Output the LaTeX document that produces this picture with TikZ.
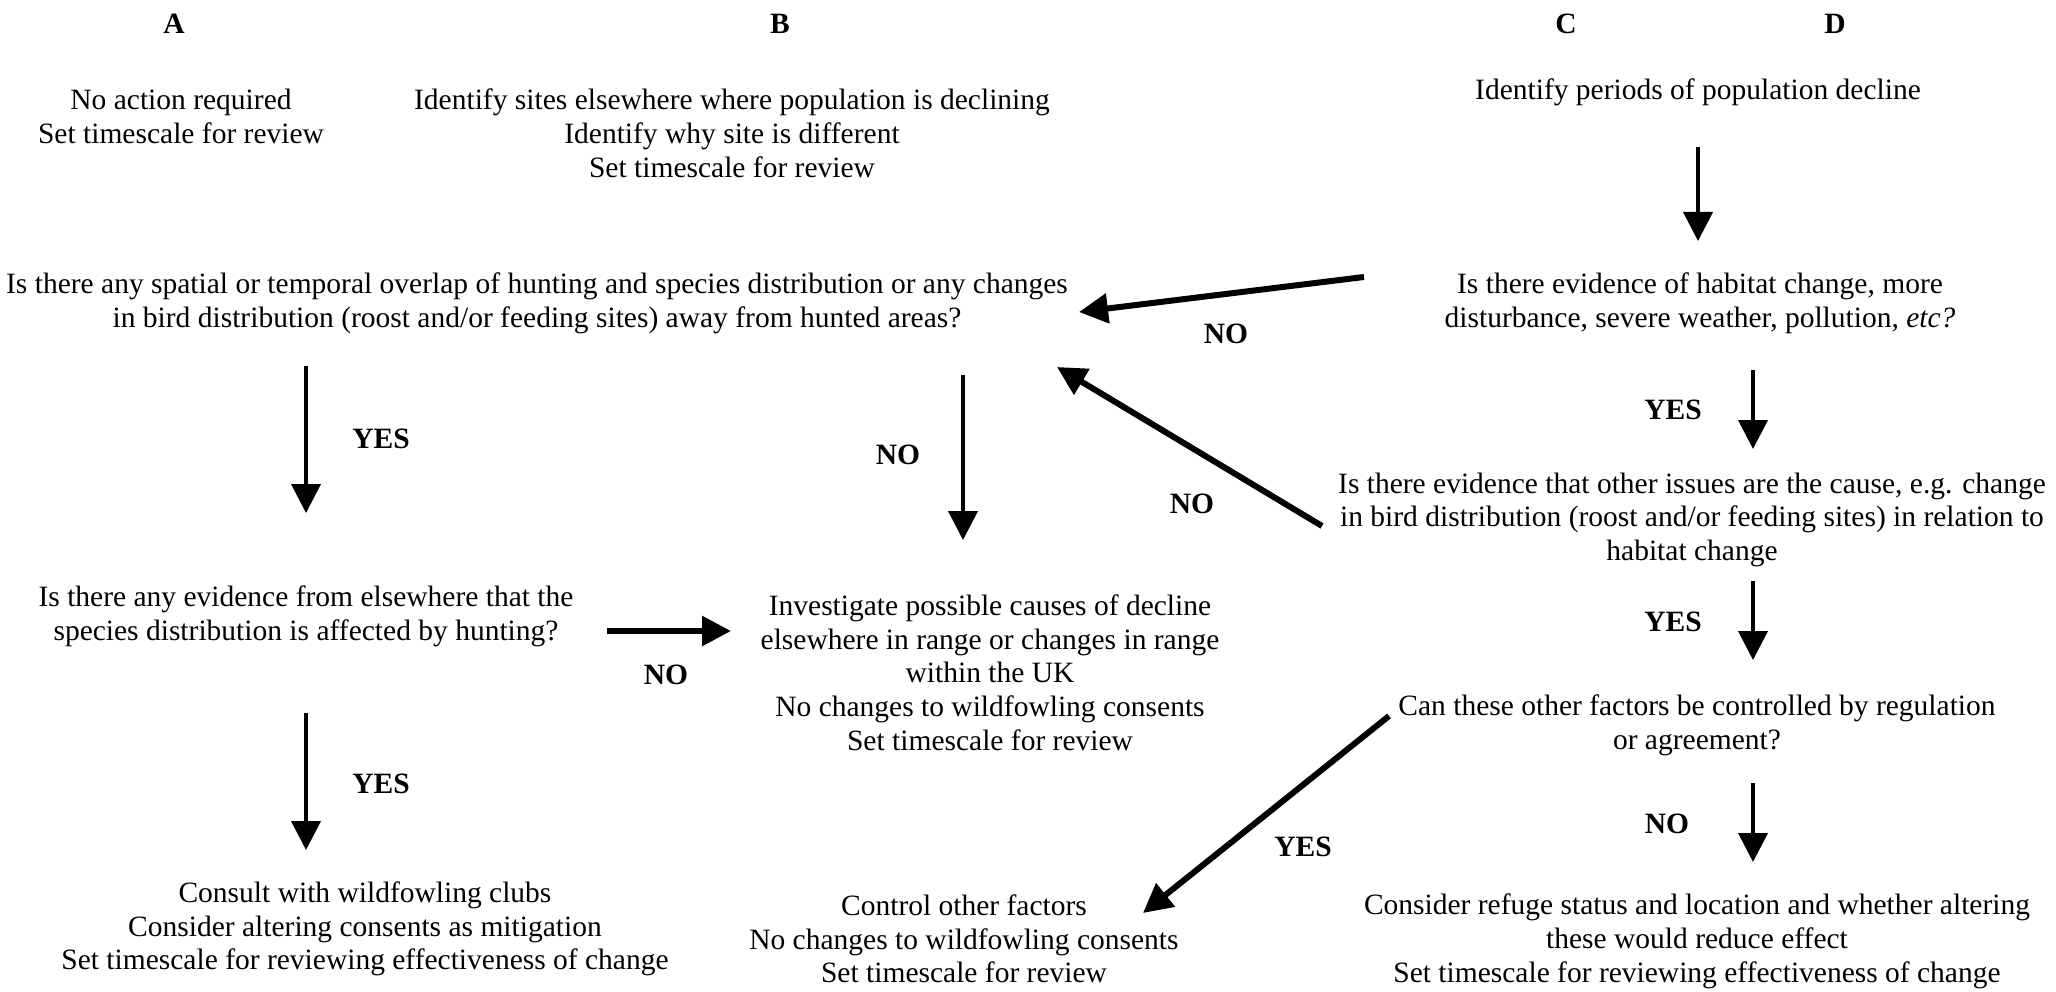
\documentclass[tikz,border=0pt]{standalone}
\usepackage{fontspec}
\setmainfont{Liberation Serif}
\usetikzlibrary{arrows.meta}
\begin{document}
\begin{tikzpicture}[x=1pt,y=-1pt,
  txt/.style={align=center, inner sep=0pt, anchor=north, font=\fontsize{29.5}{33.7}\selectfont, execute at begin node=\strut},
  lbl/.style={inner sep=0pt, anchor=base, font=\fontsize{29.5}{33.7}\selectfont\bfseries},
  thinarr/.style={line width=4pt, -{Triangle[length=29pt,width=29pt]}},
  thickarr/.style={line width=6pt, -{Triangle[length=29pt,width=29pt]}}]
\useasboundingbox (0,0) rectangle (2056,992);
% headers
\node[lbl] (hA) at (174,34) {A};
\node[lbl] (hB) at (780,34) {B};
\node[lbl] (hC) at (1566,34) {C};
\node[lbl] (hD) at (1835,34) {D};
% text blocks
\node[txt] (noact) at (181,88.8) {No action required\\Set timescale for review};
\node[txt] (idsites) at (732,88.8) {Identify sites elsewhere where population is declining\\Identify why site is different\\Set timescale for review};
\node[txt] (idper) at (1698,75.7) {Identify periods of population decline};
\node[txt] (q1) at (537,272.4) {Is there any spatial or temporal overlap of hunting and species distribution or any changes\\in bird distribution (roost and/or feeding sites) away from hunted areas?};
\node[txt] (hab) at (1700,272.7) {Is there evidence of habitat change, more\\disturbance, severe weather, pollution, \textit{etc?}};
\node[txt] (other) at (1692,472.4) {Is there evidence that other issues are the cause, e.g. change\\in bird distribution (roost and/or feeding sites) in relation to\\habitat change};
\node[txt] (q2) at (306,585.4) {Is there any evidence from elsewhere that the\\species distribution is affected by hunting?};
\node[txt] (inv) at (990,594.6) {Investigate possible causes of decline\\elsewhere in range or changes in range\\within the UK\\No changes to wildfowling consents\\Set timescale for review};
\node[txt] (can) at (1697,694.4) {Can these other factors be controlled by regulation\\or agreement?};
\node[txt] (consult) at (365,881.4) {Consult with wildfowling clubs\\Consider altering consents as mitigation\\Set timescale for reviewing effectiveness of change};
\node[txt] (control) at (964,894.4) {Control other factors\\No changes to wildfowling consents\\Set timescale for review};
\node[txt] (refuge) at (1697,894) {Consider refuge status and location and whether altering\\these would reduce effect\\Set timescale for reviewing effectiveness of change};
% labels
\node[lbl] (y1) at (381,448) {YES};
\node[lbl] (n1) at (898,464) {NO};
\node[lbl] (n2) at (1226,344) {NO};
\node[lbl] (y2) at (1673,419) {YES};
\node[lbl] (n3) at (1192,513) {NO};
\node[lbl] (n4) at (666,684) {NO};
\node[lbl] (y3) at (381,793) {YES};
\node[lbl] (y4) at (1673,631) {YES};
\node[lbl] (y5) at (1303,856) {YES};
\node[lbl] (n5) at (1667,833) {NO};
% connector end points
\coordinate (a1s) at (1698,147);  \coordinate (a1e) at (1698,241);
\coordinate (a2s) at (1364,277);  \coordinate (a2e) at (1079,312);
\coordinate (a3s) at (1753,370);  \coordinate (a3e) at (1753,449);
\coordinate (a4s) at (1322,526);  \coordinate (a4e) at (1057,367);
\coordinate (a5s) at (963,375);   \coordinate (a5e) at (963,540);
\coordinate (a6s) at (306,366);   \coordinate (a6e) at (306,513);
\coordinate (a7s) at (607,631);   \coordinate (a7e) at (731,631);
\coordinate (a8s) at (306,713);   \coordinate (a8e) at (306,850);
\coordinate (a9s) at (1753,581);  \coordinate (a9e) at (1753,660);
\coordinate (a10s) at (1753,783); \coordinate (a10e) at (1753,862);
\coordinate (a11s) at (1389,716); \coordinate (a11e) at (1143,913);
% connectors
\draw[thinarr] (a1s) -- (a1e);
\draw[thickarr] (a2s) -- (a2e);
\draw[thinarr] (a3s) -- (a3e);
\draw[thickarr] (a4s) -- (a4e);
\draw[thinarr] (a5s) -- (a5e);
\draw[thinarr] (a6s) -- (a6e);
\draw[thickarr] (a7s) -- (a7e);
\draw[thinarr] (a8s) -- (a8e);
\draw[thinarr] (a9s) -- (a9e);
\draw[thinarr] (a10s) -- (a10e);
\draw[thickarr] (a11s) -- (a11e);
\end{tikzpicture}
\end{document}
